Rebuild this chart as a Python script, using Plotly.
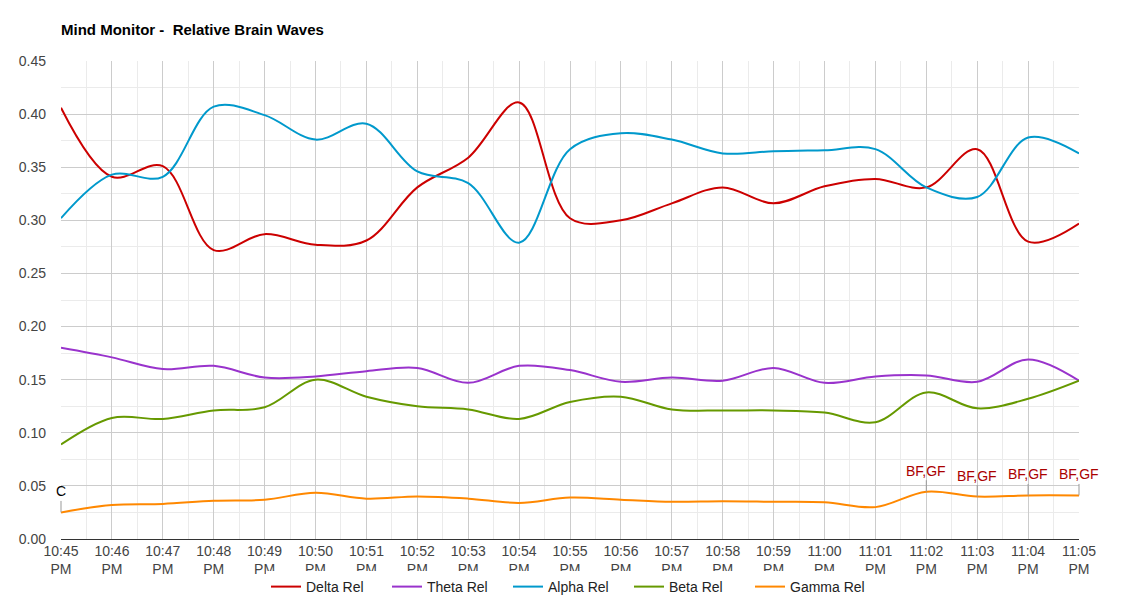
import plotly.graph_objects as go

times = ["2024-01-01 22:%02d:00" % m for m in range(45, 60)] + ["2024-01-01 23:%02d:00" % m for m in range(0, 6)]

delta = [0.406, 0.341, 0.351, 0.272, 0.287, 0.277, 0.281, 0.331, 0.359, 0.411, 0.302,
         0.300, 0.316, 0.331, 0.316, 0.332, 0.339, 0.331, 0.367, 0.280, 0.297]
theta = [0.180, 0.171, 0.160, 0.163, 0.152, 0.153, 0.158, 0.161, 0.147, 0.163, 0.159,
         0.148, 0.152, 0.149, 0.161, 0.147, 0.153, 0.154, 0.148, 0.169, 0.149]
alpha = [0.302, 0.343, 0.341, 0.407, 0.399, 0.376, 0.391, 0.346, 0.335, 0.279, 0.367,
         0.382, 0.376, 0.363, 0.365, 0.366, 0.367, 0.331, 0.322, 0.378, 0.363]
beta = [0.089, 0.114, 0.113, 0.121, 0.124, 0.150, 0.134, 0.125, 0.122, 0.113, 0.129,
        0.134, 0.122, 0.121, 0.121, 0.119, 0.110, 0.138, 0.123, 0.132, 0.149]
gamma = [0.025, 0.032, 0.033, 0.036, 0.037, 0.0435, 0.038, 0.040, 0.038, 0.034, 0.039,
         0.037, 0.035, 0.0355, 0.035, 0.0345, 0.030, 0.0445, 0.040, 0.041, 0.041]

series_names = ["Delta Rel", "Theta Rel", "Alpha Rel", "Beta Rel", "Gamma Rel"]
series_colors = ["#CC0000", "#9933CC", "#0099CC", "#669900", "#FF8800"]

# annotation markers on the gamma series: (index, text, color)
note_idx = [0, 17, 18, 19, 20]
note_txt = ["C", "BF,GF", "BF,GF", "BF,GF", "BF,GF"]
note_col = ["#000000", "#AA0000", "#AA0000", "#AA0000", "#AA0000"]

# page body has an 8px margin, so the figure is sized/offset to compensate
W, H = 1132, 592

fig = go.Figure()
for name, vals, col in zip(series_names, [delta, theta, alpha, beta, gamma], series_colors):
    fig.add_trace(go.Scatter(x=times, y=vals, name=name, mode="lines",
                             line=dict(color=col, width=2, shape="spline", smoothing=1)))

for i, t, c in zip(note_idx, note_txt, note_col):
    fig.add_annotation(x=times[i], y=gamma[i], text=t, showarrow=True, arrowhead=0,
                       arrowwidth=1, arrowcolor="#999999", ax=0, ay=-21,
                       font=dict(family="Arial, Liberation Sans", size=14, color=c))

fig.update_layout(
    width=W, height=H,
    margin=dict(l=53, r=61, t=53, b=61, pad=0, autoexpand=False),
    paper_bgcolor="white", plot_bgcolor="white",
    font=dict(family="Arial, Liberation Sans", size=14, color="#444444"),
    title=dict(text="<b>Mind Monitor -\u00a0 Relative Brain Waves</b>", x=53/W, xanchor="left",
               y=1 - 22/H, yanchor="middle",
               font=dict(family="Arial, Liberation Sans", size=15, color="#000000")),
    showlegend=True,
    legend=dict(orientation="h", xref="container", x=(266 - 8)/W, xanchor="left",
                yref="container", y=(H - 579)/H, yanchor="middle",
                font=dict(size=14, color="#222222"), itemwidth=30, traceorder="normal",
                entrywidth=76, entrywidthmode="pixels"),
    xaxis=dict(type="date", range=[times[0], times[-1]], tickformat="%I:%M<br>%p",
               dtick=60000, tick0=times[0], showgrid=True, gridcolor="#cccccc", gridwidth=1,
               minor=dict(dtick=30000, tick0=times[0], showgrid=True, gridcolor="#ebebeb"),
               zeroline=False, showline=False, ticks="", ticklabelstandoff=2, automargin=False,
               tickfont=dict(size=14, color="#444444")),
    yaxis=dict(range=[0, 0.45], dtick=0.05, tickformat=".2f", showgrid=True,
               gridcolor="#cccccc", minor=dict(dtick=0.025, showgrid=True, gridcolor="#ebebeb"),
               zeroline=True, zerolinecolor="#333333", zerolinewidth=1, ticks="", automargin=False,
               ticklabelstandoff=14, tickfont=dict(size=14, color="#444444")),
    hovermode=False,
)

fig.write_html("out.html")
